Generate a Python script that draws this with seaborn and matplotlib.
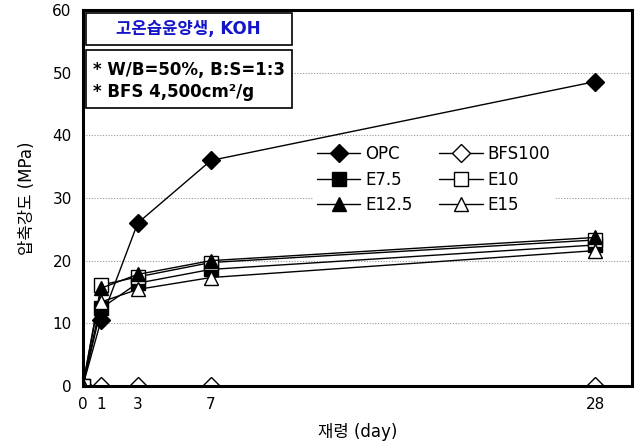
import matplotlib
matplotlib.use("Agg")
import matplotlib.pyplot as plt
from matplotlib.patches import Rectangle
import seaborn as sns
import pandas as pd

# data
days = [0, 1, 3, 7, 28]
opc = [0, 10.5, 26.0, 36.0, 48.6]
bfs100 = [0, 0, 0, 0, 0]
e75 = [0, 12.4, 16.4, 18.6, 22.5]
e10 = [0, 16.1, 17.4, 19.7, 23.3]
e125 = [0, 15.6, 17.8, 20.0, 23.7]
e15 = [0, 13.4, 15.4, 17.3, 21.6]

series = ["OPC", "BFS100", "E7.5", "E10", "E12.5", "E15"]
values = [opc, bfs100, e75, e10, e125, e15]
markers = ["D", "D", "s", "s", "^", "^"]
filled = [True, False, True, False, True, False]

sns.set_theme(style="white")
plt.rcParams['font.family'] = ['DejaVu Sans', 'Noto Sans CJK KR']

fig = plt.figure(figsize=(6.37, 4.44), dpi=100)
ax = fig.add_axes([0.130, 0.131, 0.862, 0.846])

handles = {}
for name, vals, m, f in zip(series, values, markers, filled):
    df = pd.DataFrame({"day": days, "val": vals})
    ms = 9 if m == "D" else 10
    sns.lineplot(x="day", y="val", data=df, ax=ax, color="black", linewidth=1.0,
                 marker=m, markersize=ms, markerfacecolor="black" if f else "white",
                 markeredgecolor="black", markeredgewidth=1.0, label=name)
    handles[name] = ax.lines[-1]

ax.set_xlim(0, 30)
ax.set_ylim(0, 60)
ax.set_xticks(days)
ax.set_yticks(range(0, 61, 10))
ax.tick_params(axis="both", labelsize=11, length=0, pad=8, labelcolor="black")
for y in range(10, 60, 10):
    ax.axhline(y, color="#999999", linestyle=(0, (1, 1.5)), linewidth=0.8, zorder=0)
for s in ax.spines.values():
    s.set_color("black")
    s.set_linewidth(2.2)

ax.set_xlabel("재령 (day)", fontsize=12, labelpad=8, color="black")
ax.set_ylabel("압축강도 (MPa)", fontsize=12, labelpad=12, color="black")

order = ["OPC", "E7.5", "E12.5", "BFS100", "E10", "E15"]
leg = ax.legend([handles[k] for k in order], order, ncol=2, loc="upper left",
                bbox_to_anchor=(0.405, 0.672), frameon=True, fontsize=12,
                handlelength=2.6, columnspacing=1.6, labelspacing=0.45,
                handletextpad=0.3, borderpad=0.2)
leg.get_frame().set_edgecolor("white")
leg.get_frame().set_facecolor("white")
leg.get_frame().set_alpha(1)
for t in leg.get_texts():
    t.set_color("black")

# annotation boxes
ax.add_patch(Rectangle((0.006, 0.907), 0.375, 0.085, transform=ax.transAxes,
                       facecolor="white", edgecolor="black", linewidth=1.2, zorder=5))
ax.add_patch(Rectangle((0.006, 0.739), 0.375, 0.155, transform=ax.transAxes,
                       facecolor="white", edgecolor="black", linewidth=1.2, zorder=5))
ax.text(0.193, 0.949, "고온습윤양생, KOH", transform=ax.transAxes, fontsize=12,
        fontweight="bold", color="#1414c8", va="center", ha="center", zorder=6)
ax.text(0.018, 0.842, "* W/B=50%, B:S=1:3", transform=ax.transAxes,
        fontsize=12, fontweight="bold", color="black", va="center", ha="left", zorder=6)
ax.text(0.018, 0.782, "* BFS 4,500cm²/g", transform=ax.transAxes,
        fontsize=12, fontweight="bold", color="black", va="center", ha="left", zorder=6)

fig.savefig("out.png", dpi=100)
